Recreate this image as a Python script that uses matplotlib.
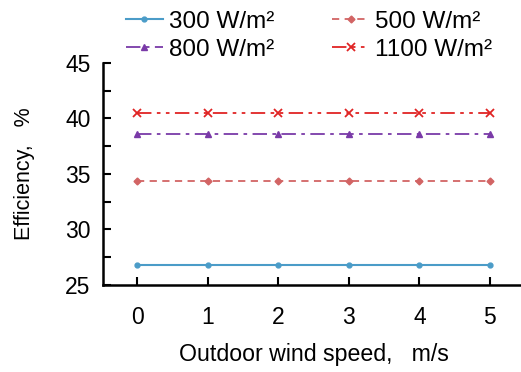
import matplotlib
matplotlib.use("Agg")
import matplotlib.pyplot as plt
from matplotlib.ticker import MultipleLocator

plt.rcParams['font.family'] = ['Liberation Sans', 'DejaVu Sans']

wind_speed = [0, 1, 2, 3, 4, 5]
eff_300 = [26.8, 26.8, 26.8, 26.8, 26.8, 26.8]
eff_500 = [34.4, 34.4, 34.4, 34.4, 34.4, 34.4]
eff_800 = [38.6, 38.6, 38.6, 38.6, 38.6, 38.6]
eff_1100 = [40.5, 40.5, 40.5, 40.5, 40.5, 40.5]
labels = ['300 W/m²', '500 W/m²', '800 W/m²', '1100 W/m²']

fig = plt.figure(figsize=(5.21, 3.72), dpi=100)
ax = fig.add_axes([0.198, 0.234, 0.81, 0.597])

h1, = ax.plot(wind_speed, eff_300, color='#4b9cc8', lw=1.5, marker='o', ms=3.5, ls='-', label=labels[0])
h2, = ax.plot(wind_speed, eff_500, color='#d26464', lw=1.3, marker='D', ms=3.5, ls=(0, (4, 3)), label=labels[1])
h3, = ax.plot(wind_speed, eff_800, color='#7a3aa8', lw=1.3, marker='^', ms=4, ls=(0, (8, 3, 2, 3)), label=labels[2])
h4, = ax.plot(wind_speed, eff_1100, color='#e02424', lw=1.3, marker='x', ms=6, mew=1.3, ls=(0, (8, 3, 2, 3, 2, 3)), label=labels[3])

ax.set_xlim(-0.48, 5.5)
ax.set_ylim(25, 45)
ax.set_xticks(wind_speed)
ax.yaxis.set_major_locator(MultipleLocator(5))
ax.yaxis.set_minor_locator(MultipleLocator(2.5))
ax.tick_params(direction='in', length=6, width=1.5, labelsize=16.5, pad=9)
ax.tick_params(which='minor', direction='in', length=6, width=1.5)
ax.tick_params(axis='x', pad=15)
for s in ['top', 'right']:
    ax.spines[s].set_visible(False)
for s in ['left', 'bottom']:
    ax.spines[s].set_linewidth(1.8)

ax.set_xlabel('Outdoor wind speed,   m/s', fontsize=16.7, labelpad=10)
ax.set_ylabel('Efficiency,   %', fontsize=15.5, labelpad=22)

fig.legend([h1, h3, h2, h4], [labels[0], labels[2], labels[1], labels[3]],
           loc='upper left', bbox_to_anchor=(0.2, 1.03), ncol=2, frameon=False,
           fontsize=17.5, handlelength=1.5, handletextpad=0.25, columnspacing=2.4,
           labelspacing=0.25)

fig.savefig('out.png', dpi=100)
